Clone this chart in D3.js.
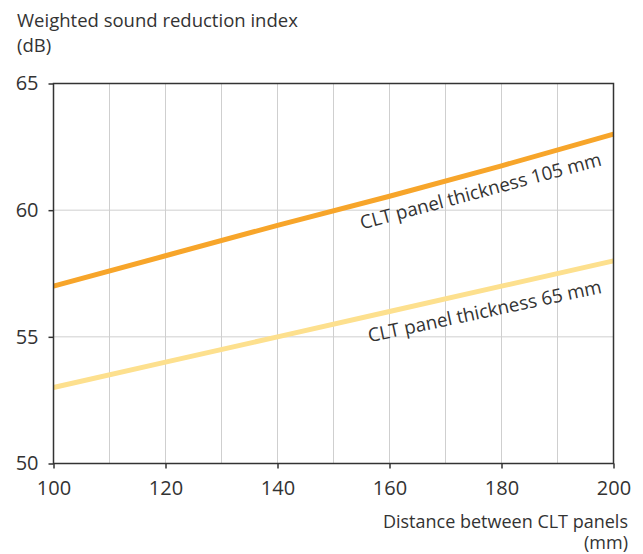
<!DOCTYPE html>
<html><head><meta charset="utf-8">
<script src="https://cdn.jsdelivr.net/npm/d3@7"></script>
<style>body{margin:0;background:#fff;}svg{display:block;font-family:"Open Sans",sans-serif;}</style>
</head><body>
<svg id="c" width="643" height="554"></svg>
<script>
const distances = [100, 120, 140, 160, 180, 200];
const thick105 = [57, 58.2, 59.4, 60.55, 61.75, 63];
const thick65 = [53, 54, 55, 56, 57, 58];
const xTicks = [100, 120, 140, 160, 180, 200];
const yTicks = [50, 55, 60, 65];
const xGrid = [110, 120, 130, 140, 150, 160, 170, 180, 190];
const yGrid = [55, 60];
const seriesNames = ["CLT panel thickness 105 mm", "CLT panel thickness 65 mm"];

const svg = d3.select("#c");
const m = {l: 53.5, r: 613.5, t: 83.5, b: 463.5};
const x = d3.scaleLinear().domain([100, 200]).range([m.l, m.r]);
const y = d3.scaleLinear().domain([50, 65]).range([m.b, m.t]);

// grid
svg.append("g").selectAll("line").data(xGrid).join("line")
  .attr("x1", d => x(d)).attr("x2", d => x(d)).attr("y1", m.t).attr("y2", m.b)
  .attr("stroke", "#cfcfcf").attr("stroke-width", 1);
svg.append("g").selectAll("line").data(yGrid).join("line")
  .attr("y1", d => y(d)).attr("y2", d => y(d)).attr("x1", m.l).attr("x2", m.r)
  .attr("stroke", "#cfcfcf").attr("stroke-width", 1);

// lines
const line = d3.line().x((d, i) => x(distances[i])).y(d => y(d));
svg.append("path").datum(thick65).attr("d", line).attr("fill", "none")
  .attr("stroke", "#fde08e").attr("stroke-width", 5);
svg.append("path").datum(thick105).attr("d", line).attr("fill", "none")
  .attr("stroke", "#f7a52a").attr("stroke-width", 5);

// frame
svg.append("rect").attr("x", m.l).attr("y", m.t).attr("width", m.r - m.l).attr("height", m.b - m.t)
  .attr("fill", "none").attr("stroke", "#333").attr("stroke-width", 1.5);

// axes
const xa = svg.append("g").attr("transform", `translate(0,${m.b})`)
  .call(d3.axisBottom(x).tickValues(xTicks).tickSize(5).tickPadding(12).tickFormat(d3.format("d")));
const ya = svg.append("g").attr("transform", `translate(${m.l},0)`)
  .call(d3.axisLeft(y).tickValues(yTicks).tickSize(5).tickPadding(10).tickFormat(d3.format("d")));
[xa, ya].forEach(g => {
  g.select(".domain").remove();
  g.selectAll("line").attr("stroke", "#333").attr("stroke-width", 1.5);
  g.selectAll("text").attr("fill", "#333").style("font-size", "20px").style("font-family", '"Open Sans",sans-serif');
});

// titles
const fs = "18.5px";
svg.append("text").attr("x", 17).attr("y", 27).attr("fill", "#333").style("font-size", fs).text("Weighted sound reduction index");
svg.append("text").attr("x", 17).attr("y", 52).attr("fill", "#333").style("font-size", fs).text("(dB)");
svg.append("text").attr("x", 628).attr("y", 528).attr("text-anchor", "end").attr("fill", "#333").style("font-size", "18px").text("Distance between CLT panels");
svg.append("text").attr("x", 628).attr("y", 549).attr("text-anchor", "end").attr("fill", "#333").style("font-size", "18px").text("(mm)");

// series labels
const labels = [
  {name: seriesNames[0], xv: 200, yv: 63, dx: -11, dy: 31, ang: -15},
  {name: seriesNames[1], xv: 200, yv: 58, dx: -11, dy: 32, ang: -12}
];
labels.forEach(l => {
  svg.append("text").attr("text-anchor", "end").attr("fill", "#333").style("font-size", "18.8px")
    .attr("transform", `translate(${x(l.xv) + l.dx},${y(l.yv) + l.dy}) rotate(${l.ang})`)
    .text(l.name);
});
</script>
</body></html>
